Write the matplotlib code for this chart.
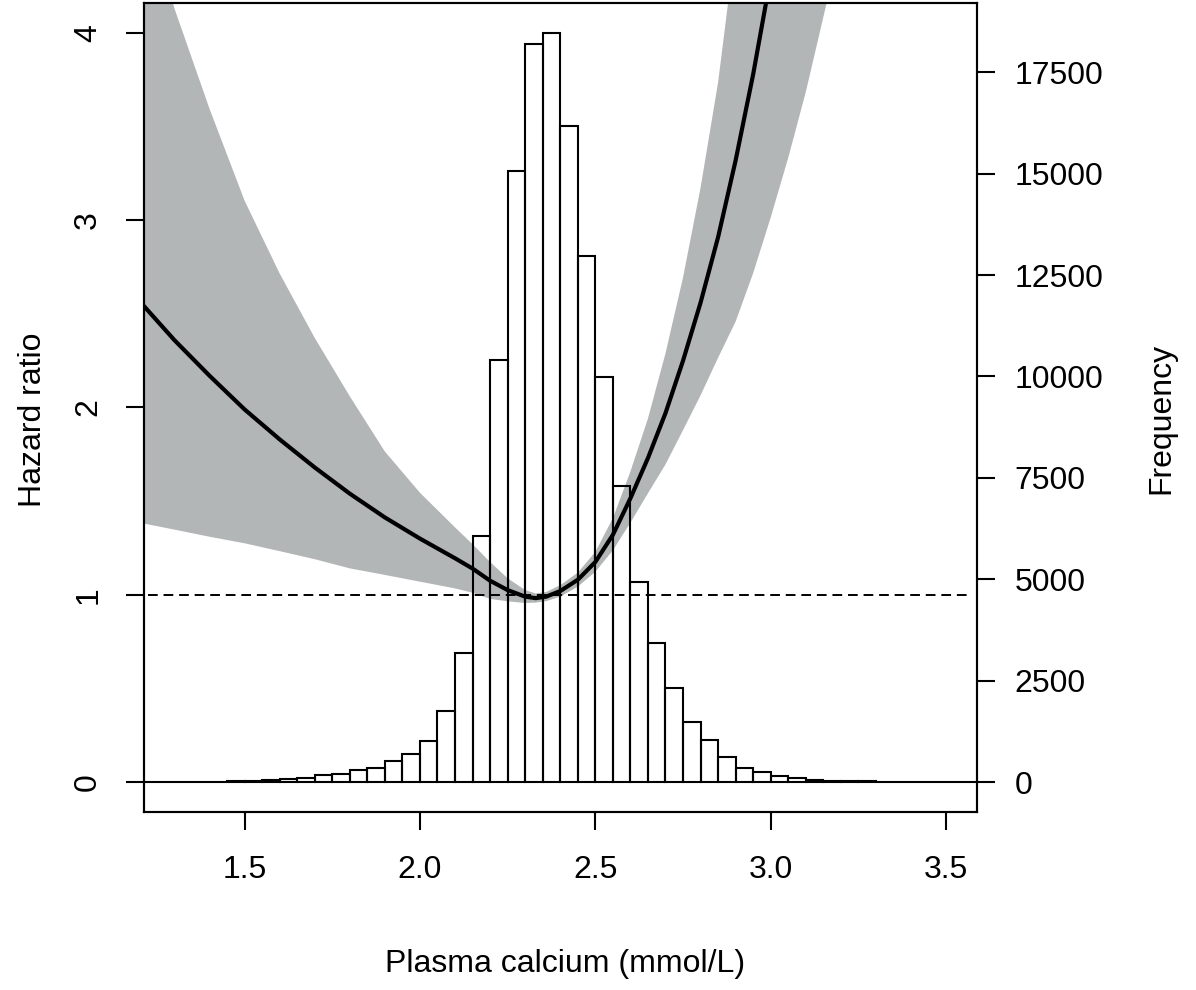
import numpy as np
import matplotlib
matplotlib.use('Agg')
import matplotlib.pyplot as plt

plt.rcParams['font.family'] = ['Liberation Sans', 'DejaVu Sans']

# histogram of plasma calcium, bins of 0.05 mmol/L starting at 1.20
bin_start = 1.20
bin_width = 0.05
counts = [2, 3, 4, 6, 9, 15, 25, 45, 70, 110, 175, 195, 290, 355, 520, 690,
          1012, 1760, 3176, 6054, 10415, 15062, 18206, 18467, 16165, 12969,
          9978, 7298, 4936, 3416, 2320, 1473, 1037, 617, 355, 239,
          158, 91, 59, 35, 25, 18, 12, 8, 6, 4, 3, 2]

# hazard ratio with its confidence band
calcium = [1.214, 1.30, 1.40, 1.50, 1.60, 1.70, 1.80, 1.90, 2.00, 2.10, 2.15,
           2.20, 2.25, 2.30, 2.33, 2.36, 2.40, 2.45, 2.50, 2.55, 2.60, 2.65,
           2.70, 2.75, 2.80, 2.85, 2.90, 2.95, 3.00, 3.05, 3.10, 3.16]
hr = [2.54, 2.36, 2.17, 1.99, 1.83, 1.68, 1.54, 1.413, 1.30, 1.195, 1.14,
      1.075, 1.025, 0.99, 0.982, 0.99, 1.02, 1.08, 1.175, 1.32, 1.515, 1.73,
      1.97, 2.25, 2.56, 2.91, 3.32, 3.78, 4.30, 4.90, 5.58, 6.50]
hr_lo = [1.380, 1.348, 1.310, 1.275, 1.233, 1.190, 1.141, 1.106, 1.070, 1.034,
         1.011, 0.978, 0.965, 0.956, 0.958, 0.966, 0.990, 1.043, 1.123, 1.237,
         1.385, 1.542, 1.696, 1.879, 2.065, 2.266, 2.459, 2.718, 3.015, 3.334,
         3.685, 4.165]
hr_hi = [4.674, 4.132, 3.596, 3.105, 2.716, 2.372, 2.060, 1.765, 1.545, 1.360,
         1.270, 1.175, 1.088, 1.025, 1.007, 1.015, 1.051, 1.118, 1.229, 1.409,
         1.658, 1.941, 2.289, 2.694, 3.174, 3.737, 4.482, 5.258, 6.13, 7.2,
         8.45, 10.1]

fig = plt.figure(figsize=(11.96, 9.9), dpi=100)
ax = fig.add_axes([143.5 / 1196, 1 - 812 / 990, (977 - 143.5) / 1196, 809 / 990])
ax2 = ax.twinx()

ax.fill_between(calcium, hr_lo, hr_hi, color='#b3b6b6', lw=0, zorder=1)
ax.plot(calcium, hr, color='black', lw=3, zorder=3)
ax.plot([1.225, 3.56], [1, 1], color='black', lw=1.4, dashes=(5, 3), zorder=4)

edges = bin_start + bin_width * np.arange(len(counts))
ax2.bar(edges, counts, width=bin_width, align='edge', facecolor='none',
        edgecolor='black', lw=1.5)

ax.set_xlim(1.212, 3.588)
ax.set_ylim(-0.16, 4.16)
ax2.set_ylim(-0.04 * 18467, 1.04 * 18467)

ax.set_xticks([1.5, 2.0, 2.5, 3.0, 3.5])
ax.set_xticklabels(['1.5', '2.0', '2.5', '3.0', '3.5'])
ax.set_yticks([0, 1, 2, 3, 4])
ax2.set_yticks(np.arange(0, 17501, 2500))

ax.tick_params(axis='x', length=13, width=1.5, labelsize=23, pad=18)
ax.tick_params(axis='y', length=13, width=1.5, labelsize=23, pad=16, labelrotation=90)
for lbl in ax.get_yticklabels():
    lbl.set_va('center')
ax2.tick_params(axis='y', length=13, width=1.5, labelsize=23, pad=14)

for a in (ax, ax2):
    for s in a.spines.values():
        s.set_linewidth(1.5)

fig.text(33 / 1196, 1 - 420 / 990, 'Hazard ratio', rotation=90, fontsize=23,
         ha='center', va='center')
fig.text(1161 / 1196, 1 - 418 / 990, 'Frequency', rotation=90, fontsize=23,
         ha='center', va='center')
fig.text(565 / 1196, 1 - 964 / 990, 'Plasma calcium (mmol/L)', fontsize=23,
         ha='center', va='center')

fig.savefig('out.png', dpi=100)
